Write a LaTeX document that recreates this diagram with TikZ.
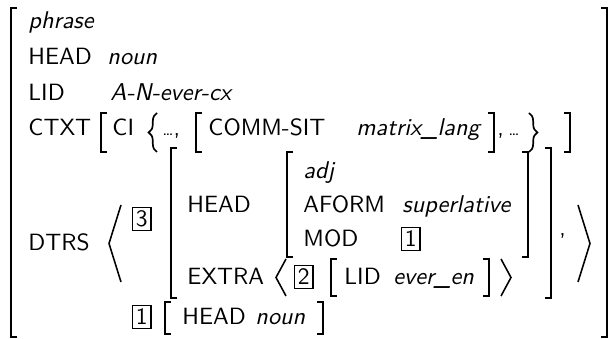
\documentclass[tikz,border=0pt]{standalone}
\usepackage{fontspec}
\usetikzlibrary{decorations.pathreplacing}

% square brackets: x of the vertical stroke, top, bottom
\newcommand\avmL[3]{\draw[brk] ({#1+6},#2) -- (#1,#2) -- (#1,#3) -- ({#1+6},#3);}
\newcommand\avmR[3]{\draw[brk] ({#1-6},#2) -- (#1,#2) -- (#1,#3) -- ({#1-6},#3);}
% angle brackets: x of the tip, top, bottom, width
\newcommand\avmAL[4]{\draw[ang] ({#1+#4},#2) -- (#1,{(#2+#3)/2}) -- ({#1+#4},#3);}
\newcommand\avmAR[4]{\draw[ang] ({#1-#4},#2) -- (#1,{(#2+#3)/2}) -- ({#1-#4},#3);}

\newcommand\avmfont{\sffamily\fontsize{9.8}{12}\selectfont}
\newcommand\avmtype{\sffamily\itshape\fontsize{10.1}{12}\selectfont}

\tikzset{
  lbl/.style={font=\avmfont, inner sep=0pt, anchor=base west},
  val/.style={font=\avmtype, inner sep=0pt, anchor=base west},
  tag/.style={draw, line width=0.45pt, font=\avmfont, inner sep=1.4pt, anchor=base west},
  brk/.style={line width=0.8pt},
  ang/.style={line width=0.65pt},
  brc/.style={line width=0.7pt, decorate, decoration={brace, amplitude=3.5pt}},
}

\begin{document}
\begin{tikzpicture}[x=0.4167pt, y=-0.4167pt]
\useasboundingbox (0,0) rectangle (610,339);

% outer matrix
\avmL{11}{8}{337}
\avmR{607}{8}{337}

\node[val] (type) at (28,29) {phrase};
\node[lbl] (head) at (28,65) {HEAD};
\node[val] (noun) at (107,65) {noun};
\node[lbl] (lid) at (28,101) {LID};
\node[val] (lidv) at (110,101) {A-N-ever-cx};

% CTXT row
\node[lbl] (ctxt) at (28,136) {CTXT};
\avmL{101}{113}{152}
\node[lbl] (ci) at (112,136) {CI};
\draw[brc] (157,152) -- (157,113);
\node[lbl] (dots1) at (162,136) {{\scriptsize\textellipsis},};
\avmL{196}{113}{152}
\node[lbl] (comm) at (208,136) {COMM-SIT};
\node[val] (ml) at (356,136) {matrix\_lang};
\avmR{494}{113}{152}
\node[lbl] (comma1) at (497,136) {,};
\node[lbl] (dots2) at (508,136) {\scriptsize\textellipsis};
\draw[brc] (529,113) -- (529,152);
\avmR{570}{113}{152}

% DTRS row
\node[lbl] (dtrs) at (28,251) {DTRS};
\avmAL{109}{205}{282}{12}
\node[tag] (t3) at (132,227) {3};
\avmL{171}{148}{298}
\avmR{551}{148}{298}
\node[lbl] (head2) at (187,213) {HEAD};
\avmL{287}{152}{257}
\avmR{528}{152}{257}
\node[val] (adj) at (303,179) {adj};
\node[lbl] (aform) at (303,213) {AFORM};
\node[val] (sup) at (402,213) {superlative};
\node[lbl] (mod) at (303,247) {MOD};
\node[tag] (t1a) at (401,247) {1};

\node[lbl] (extra) at (187,285) {EXTRA};
\avmAL{276}{259}{296}{10}
\node[tag] (t2) at (294,285) {2};
\avmL{331}{259}{296}
\node[lbl] (lid2) at (344,285) {LID};
\node[val] (ever) at (393,285) {ever\_en};
\avmR{489}{259}{296}
\avmAR{511}{259}{296}{10}

\node[lbl] (comma2) at (559,236) {,};
\avmAR{590}{205}{282}{12}

% shared value of MOD
\node[tag] (t1b) at (132,325) {1};
\avmL{165}{302}{334}
\node[lbl] (head3) at (182,325) {HEAD};
\node[val] (noun2) at (255,325) {noun};
\avmR{323}{302}{334}
\end{tikzpicture}
\end{document}
